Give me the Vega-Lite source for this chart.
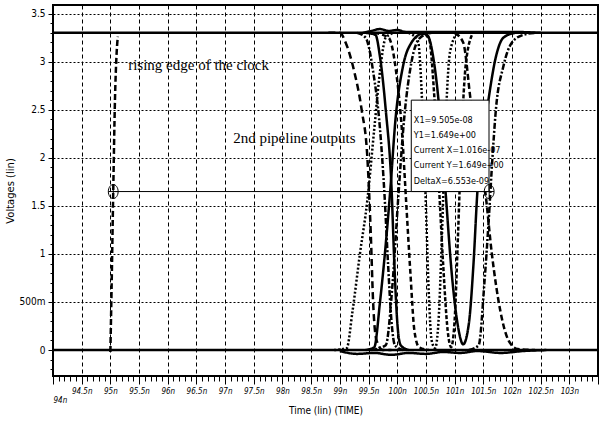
{
  "$schema": "https://vega.github.io/schema/vega-lite/v6.json",
  "width": 545,
  "height": 371,
  "autosize": {"type": "none"},
  "padding": {"left": 53, "top": 5, "right": 2, "bottom": 47},
  "background": "white",
  "config": {
    "view": {"stroke": "black", "strokeWidth": 2},
    "axis": {"domain": false, "tickColor": "black", "gridColor": "black", "labelColor": "black", "titleColor": "black"}
  },
  "datasets": {
    "waves": [
      {"s": "vdd", "t": 94, "v": 3.3}, {"s": "vdd", "t": 103.5, "v": 3.3},
      {"s": "gnd", "t": 94, "v": 0}, {"s": "gnd", "t": 103.5, "v": 0},
      {"s": "ripple", "t": 99.4, "v": 3.3}, {"s": "ripple", "t": 99.55, "v": 3.32}, {"s": "ripple", "t": 99.7, "v": 3.34}, {"s": "ripple", "t": 99.85, "v": 3.32}, {"s": "ripple", "t": 100.0, "v": 3.33}, {"s": "ripple", "t": 100.15, "v": 3.31}, {"s": "ripple", "t": 100.35, "v": 3.31}, {"s": "ripple", "t": 101.5, "v": 3.31}, {"s": "ripple", "t": 102.0, "v": 3.31}, {"s": "ripple", "t": 102.5, "v": 3.3},
      {"s": "noise", "t": 99.0, "v": -0.01}, {"s": "noise", "t": 99.3, "v": -0.04}, {"s": "noise", "t": 99.6, "v": -0.03}, {"s": "noise", "t": 99.9, "v": -0.05}, {"s": "noise", "t": 100.2, "v": -0.03}, {"s": "noise", "t": 100.5, "v": -0.04}, {"s": "noise", "t": 100.8, "v": -0.02}, {"s": "noise", "t": 101.1, "v": -0.03}, {"s": "noise", "t": 101.4, "v": -0.01}, {"s": "noise", "t": 101.8, "v": -0.03}, {"s": "noise", "t": 102.2, "v": -0.01}, {"s": "noise", "t": 102.6, "v": 0},
      {"s": "clk", "t": 95.0, "v": -0.02}, {"s": "clk", "t": 95.02, "v": 0.6}, {"s": "clk", "t": 95.05, "v": 1.65}, {"s": "clk", "t": 95.08, "v": 2.6}, {"s": "clk", "t": 95.11, "v": 3.1}, {"s": "clk", "t": 95.13, "v": 3.26},
      {"s": "L1", "t": 98.8, "v": 3.3}, {"s": "L1", "t": 99.0, "v": 3.3}, {"s": "L1", "t": 99.1, "v": 3.2}, {"s": "L1", "t": 99.25, "v": 2.9}, {"s": "L1", "t": 99.38, "v": 2.5}, {"s": "L1", "t": 99.48, "v": 2.0}, {"s": "L1", "t": 99.54, "v": 1.2}, {"s": "L1", "t": 99.58, "v": 0.5}, {"s": "L1", "t": 99.64, "v": 0.1}, {"s": "L1", "t": 99.75, "v": 0}, {"s": "L1", "t": 99.9, "v": 0},
      {"s": "L2", "t": 98.9, "v": 0}, {"s": "L2", "t": 99.12, "v": 0.02}, {"s": "L2", "t": 99.22, "v": 0.4}, {"s": "L2", "t": 99.35, "v": 1.0}, {"s": "L2", "t": 99.48, "v": 1.56}, {"s": "L2", "t": 99.6, "v": 2.3}, {"s": "L2", "t": 99.7, "v": 2.9}, {"s": "L2", "t": 99.8, "v": 3.25}, {"s": "L2", "t": 99.95, "v": 3.3},
      {"s": "L3", "t": 99.45, "v": 3.3}, {"s": "L3", "t": 99.62, "v": 3.28}, {"s": "L3", "t": 99.7, "v": 3.05}, {"s": "L3", "t": 99.8, "v": 2.5}, {"s": "L3", "t": 99.9, "v": 1.7}, {"s": "L3", "t": 99.95, "v": 0.9}, {"s": "L3", "t": 100.0, "v": 0.3}, {"s": "L3", "t": 100.06, "v": 0.05}, {"s": "L3", "t": 100.2, "v": 0},
      {"s": "L4", "t": 99.45, "v": 0}, {"s": "L4", "t": 99.6, "v": 0.03}, {"s": "L4", "t": 99.7, "v": 0.5}, {"s": "L4", "t": 99.8, "v": 1.1}, {"s": "L4", "t": 99.88, "v": 1.67}, {"s": "L4", "t": 99.97, "v": 2.4}, {"s": "L4", "t": 100.1, "v": 2.95}, {"s": "L4", "t": 100.25, "v": 3.2}, {"s": "L4", "t": 100.45, "v": 3.3},
      {"s": "L5", "t": 99.55, "v": 0}, {"s": "L5", "t": 99.8, "v": 0.05}, {"s": "L5", "t": 99.92, "v": 0.7}, {"s": "L5", "t": 100.02, "v": 1.6}, {"s": "L5", "t": 100.12, "v": 2.4}, {"s": "L5", "t": 100.25, "v": 3.0}, {"s": "L5", "t": 100.4, "v": 3.25}, {"s": "L5", "t": 100.6, "v": 3.3},
      {"s": "L6", "t": 99.6, "v": 3.3}, {"s": "L6", "t": 99.85, "v": 3.25}, {"s": "L6", "t": 99.98, "v": 2.9}, {"s": "L6", "t": 100.08, "v": 2.3}, {"s": "L6", "t": 100.16, "v": 1.5}, {"s": "L6", "t": 100.23, "v": 0.8}, {"s": "L6", "t": 100.3, "v": 0.2}, {"s": "L6", "t": 100.38, "v": 0.03}, {"s": "L6", "t": 100.55, "v": 0},
      {"s": "L8", "t": 99.3, "v": 3.3}, {"s": "L8", "t": 99.45, "v": 3.25}, {"s": "L8", "t": 99.58, "v": 2.9}, {"s": "L8", "t": 99.7, "v": 2.3}, {"s": "L8", "t": 99.78, "v": 1.6}, {"s": "L8", "t": 99.84, "v": 0.9}, {"s": "L8", "t": 99.9, "v": 0.3}, {"s": "L8", "t": 99.96, "v": 0.05}, {"s": "L8", "t": 100.1, "v": 0},
      {"s": "L7", "t": 100.2, "v": 3.3}, {"s": "L7", "t": 100.36, "v": 3.22}, {"s": "L7", "t": 100.44, "v": 2.5}, {"s": "L7", "t": 100.5, "v": 1.5}, {"s": "L7", "t": 100.55, "v": 0.6}, {"s": "L7", "t": 100.6, "v": 0.1}, {"s": "L7", "t": 100.66, "v": 0.02}, {"s": "L7", "t": 100.72, "v": 0.3}, {"s": "L7", "t": 100.78, "v": 1.2}, {"s": "L7", "t": 100.84, "v": 2.3}, {"s": "L7", "t": 100.92, "v": 3.1}, {"s": "L7", "t": 101.05, "v": 3.3},
      {"s": "R3", "t": 100.4, "v": 3.3}, {"s": "R3", "t": 100.55, "v": 3.25}, {"s": "R3", "t": 100.64, "v": 2.7}, {"s": "R3", "t": 100.72, "v": 1.8}, {"s": "R3", "t": 100.8, "v": 0.9}, {"s": "R3", "t": 100.88, "v": 0.2}, {"s": "R3", "t": 100.94, "v": 0.03}, {"s": "R3", "t": 101.0, "v": 0.3}, {"s": "R3", "t": 101.06, "v": 1.2}, {"s": "R3", "t": 101.12, "v": 2.2}, {"s": "R3", "t": 101.2, "v": 3.0}, {"s": "R3", "t": 101.32, "v": 3.3},
      {"s": "S2", "t": 100.35, "v": 3.3}, {"s": "S2", "t": 100.52, "v": 3.28}, {"s": "S2", "t": 100.64, "v": 3.0}, {"s": "S2", "t": 100.72, "v": 2.6}, {"s": "S2", "t": 100.84, "v": 1.67}, {"s": "S2", "t": 100.95, "v": 0.8}, {"s": "S2", "t": 101.05, "v": 0.28}, {"s": "S2", "t": 101.15, "v": 0.06}, {"s": "S2", "t": 101.25, "v": 0.28}, {"s": "S2", "t": 101.33, "v": 0.9}, {"s": "S2", "t": 101.4, "v": 1.67}, {"s": "S2", "t": 101.5, "v": 2.2}, {"s": "S2", "t": 101.59, "v": 2.6}, {"s": "S2", "t": 101.72, "v": 3.05}, {"s": "S2", "t": 101.85, "v": 3.25}, {"s": "S2", "t": 102.05, "v": 3.3},
      {"s": "R1", "t": 101.0, "v": 3.3}, {"s": "R1", "t": 101.15, "v": 3.2}, {"s": "R1", "t": 101.28, "v": 2.6}, {"s": "R1", "t": 101.4, "v": 2.1}, {"s": "R1", "t": 101.53, "v": 1.67}, {"s": "R1", "t": 101.65, "v": 1.0}, {"s": "R1", "t": 101.8, "v": 0.4}, {"s": "R1", "t": 101.94, "v": 0.1}, {"s": "R1", "t": 102.1, "v": 0.01}, {"s": "R1", "t": 102.4, "v": 0},
      {"s": "R2", "t": 101.25, "v": 0}, {"s": "R2", "t": 101.42, "v": 0.05}, {"s": "R2", "t": 101.52, "v": 0.7}, {"s": "R2", "t": 101.6, "v": 1.4}, {"s": "R2", "t": 101.66, "v": 2.0}, {"s": "R2", "t": 101.72, "v": 2.5}, {"s": "R2", "t": 101.85, "v": 2.95}, {"s": "R2", "t": 102.0, "v": 3.2}, {"s": "R2", "t": 102.2, "v": 3.28}, {"s": "R2", "t": 102.4, "v": 3.3}
    ],
    "cursors": [
      {"t": 95.05, "v": 1.649},
      {"t": 101.603, "v": 1.649}
    ],
    "one": [{}]
  },
  "layer": [
    {
      "data": {"name": "waves"},
      "mark": {"type": "line", "interpolate": "monotone", "color": "black"},
      "encoding": {
        "x": {
          "field": "t", "type": "quantitative",
          "scale": {"domain": [94, 103.5], "nice": false, "zero": false},
          "axis": {
            "title": "Time (lin) (TIME)",
            "titleFont": "DejaVu Sans Condensed, sans-serif",
            "titleFontSize": 10, "titleFontWeight": "normal", "titlePadding": 1,
            "tickCount": 500,
            "values": [94,94.1,94.2,94.3,94.4,94.5,94.6,94.7,94.8,94.9,95,95.1,95.2,95.3,95.4,95.5,95.6,95.7,95.8,95.9,96,96.1,96.2,96.3,96.4,96.5,96.6,96.7,96.8,96.9,97,97.1,97.2,97.3,97.4,97.5,97.6,97.7,97.8,97.9,98,98.1,98.2,98.3,98.4,98.5,98.6,98.7,98.8,98.9,99,99.1,99.2,99.3,99.4,99.5,99.6,99.7,99.8,99.9,100,100.1,100.2,100.3,100.4,100.5,100.6,100.7,100.8,100.9,101,101.1,101.2,101.3,101.4,101.5,101.6,101.7,101.8,101.9,102,102.1,102.2,102.3,102.4,102.5,102.6,102.7,102.8,102.9,103,103.1,103.2,103.3,103.4,103.5],
            "labelExpr": "(abs(datum.value*2 - round(datum.value*2)) < 0.01 && datum.value < 103.4) ? datum.value + 'n' : ''",
            "labelOverlap": false,
            "labelFont": "DejaVu Sans Condensed, sans-serif",
            "labelFontSize": 8, "labelFontStyle": "italic",
            "labelAlign": {"condition": {"test": "datum.value == 94", "value": "left"}, "value": "center"},
            "labelPadding": {"condition": {"test": "datum.value == 94", "value": 12}, "value": 3},
            "tickSize": {"condition": {"test": "abs(datum.value*2 - round(datum.value*2)) < 0.01", "value": 8}, "value": 5},
            "gridOpacity": {"condition": {"test": "abs(datum.value*2 - round(datum.value*2)) < 0.01", "value": 1}, "value": 0},
            "gridDash": [4, 3],
            "gridWidth": 1
          }
        },
        "y": {
          "field": "v", "type": "quantitative",
          "scale": {"domain": [-0.27, 3.59], "nice": false, "zero": false},
          "axis": {
            "title": "Voltages (lin)",
            "titleFont": "DejaVu Sans, sans-serif", "titleFontSize": 10, "titleFontWeight": "normal", "titlePadding": 4,
            "tickCount": 500,
            "values": [-0.2,-0.1,0,0.1,0.2,0.3,0.4,0.5,0.6,0.7,0.8,0.9,1,1.1,1.2,1.3,1.4,1.5,1.6,1.7,1.8,1.9,2,2.1,2.2,2.3,2.4,2.5,2.6,2.7,2.8,2.9,3,3.1,3.2,3.3,3.4,3.5],
            "labelExpr": "(abs(datum.value*2 - round(datum.value*2)) < 0.01 && datum.value > -0.05) ? (abs(datum.value - 0.5) < 0.01 ? '500m' : toString(round(datum.value*2)/2)) : ''",
            "labelOverlap": false,
            "labelFont": "DejaVu Sans Condensed, sans-serif",
            "labelFontSize": 10, "labelPadding": 3,
            "tickSize": {"condition": {"test": "abs(datum.value*2 - round(datum.value*2)) < 0.01", "value": 5}, "value": 3},
            "gridOpacity": {"condition": {"test": "abs(datum.value*2 - round(datum.value*2)) < 0.01 && datum.value > -0.05", "value": 1}, "value": 0},
            "gridDash": [2, 2],
            "gridWidth": 1
          }
        },
        "detail": {"field": "s"},
        "strokeDash": {
          "field": "s", "type": "nominal", "legend": null,
          "scale": {
            "domain": ["vdd","gnd","ripple","noise","clk","L1","L2","L3","L4","L5","L6","L8","L7","R3","S2","R1","R2"],
            "range": [[1,0],[1,0],[1,0],[1,0],[6,3],[7,4],[2,2],[1,0],[1,0],[6,2,2,2],[5,3],[6,2,2,2],[2,2],[4,2],[1,0],[6,3],[6,2,2,2]]
          }
        },
        "strokeWidth": {
          "field": "s", "type": "nominal", "legend": null,
          "scale": {
            "domain": ["vdd","gnd","ripple","noise","clk","L1","L2","L3","L4","L5","L6","L8","L7","R3","S2","R1","R2"],
            "range": [2.5,2.5,0.8,0.8,1.6,1.6,1.5,1.8,1.5,1.4,1.5,1.4,1.4,1.5,2,1.5,1.4]
          }
        }
      }
    },
    {
      "data": {"name": "one"},
      "mark": {"type": "rule", "color": "black", "strokeWidth": 1},
      "encoding": {
        "x": {"datum": 95.05},
        "x2": {"datum": 101.603},
        "y": {"datum": 1.649}
      }
    },
    {
      "data": {"name": "one"},
      "mark": {"type": "rect", "color": "white", "fill": "white", "fillOpacity": 1, "opacity": 1, "stroke": "black", "strokeWidth": 1},
      "encoding": {
        "x": {"datum": 100.245},
        "x2": {"datum": 101.6},
        "y": {"datum": 1.649},
        "y2": {"datum": 2.6}
      }
    },
    {
      "data": {"name": "cursors"},
      "mark": {"type": "point", "shape": "M0,-1A0.7,1 0 1,1 0,1A0.7,1 0 1,1 0,-1M-0.7,0H0.7M0,-1V1", "size": 196, "filled": false, "stroke": "black", "strokeWidth": 1, "opacity": 1},
      "encoding": {
        "x": {"field": "t", "type": "quantitative"},
        "y": {"field": "v", "type": "quantitative"}
      }
    },
    {
      "data": {"name": "one"},
      "mark": {"type": "text", "align": "left", "baseline": "alphabetic", "font": "DejaVu Sans Condensed, sans-serif", "fontSize": 9, "lineHeight": 15.2, "color": "black"},
      "encoding": {
        "x": {"datum": 100.29},
        "y": {"datum": 2.365},
        "text": {"value": ["X1=9.505e-08", "Y1=1.649e+00", "Current X=1.016e-07", "Current Y=1.649e+00", "DeltaX=6.553e-09"]}
      }
    },
    {
      "data": {"name": "one"},
      "mark": {"type": "text", "align": "left", "baseline": "alphabetic", "font": "Liberation Serif, Times New Roman, serif", "fontSize": 15, "color": "black"},
      "encoding": {
        "x": {"datum": 95.31},
        "y": {"datum": 2.917},
        "text": {"value": "rising edge of the clock"}
      }
    },
    {
      "data": {"name": "one"},
      "mark": {"type": "text", "align": "left", "baseline": "alphabetic", "font": "Liberation Serif, Times New Roman, serif", "fontSize": 15, "color": "black"},
      "encoding": {
        "x": {"datum": 97.14},
        "y": {"datum": 2.156},
        "text": {"value": "2nd pipeline outputs"}
      }
    }
  ]
}
